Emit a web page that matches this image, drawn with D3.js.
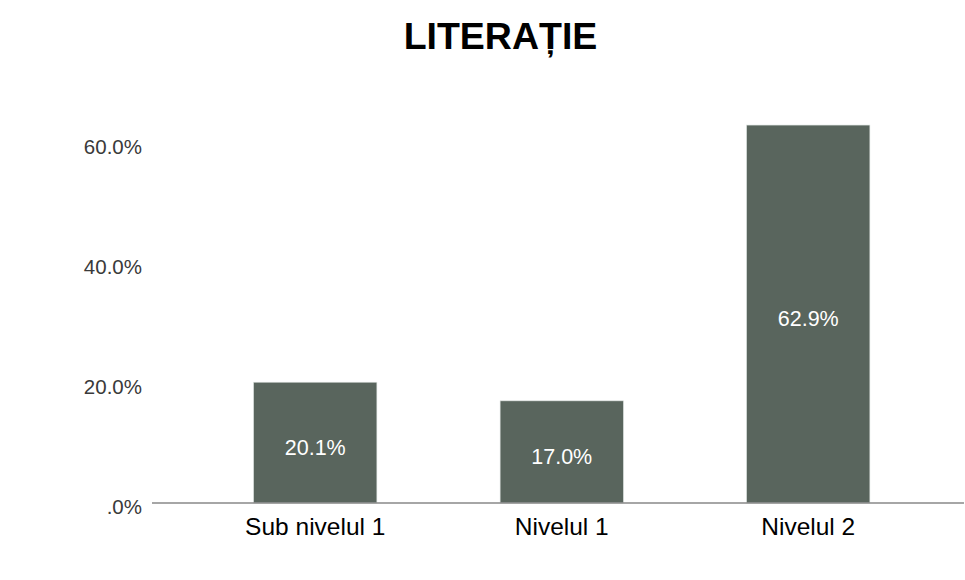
<!DOCTYPE html>
<html>
<head>
<meta charset="utf-8">
<script src="https://cdn.jsdelivr.net/npm/d3@7"></script>
<style>
html,body{margin:0;padding:0;background:#fff;}
svg{display:block;font-family:"Liberation Sans",Arial,sans-serif;}
</style>
</head>
<body>
<svg id="chart" width="965" height="580"></svg>
<script>
const title = "LITERAȚIE";
const categories = ["Sub nivelul 1", "Nivelul 1", "Nivelul 2"];
const values = [20.1, 17.0, 62.9];
const yTicks = [0, 20, 40, 60];
const yTickLabels = [".0%", "20.0%", "40.0%", "60.0%"];

const svg = d3.select("#chart");

const x = d3.scaleBand()
  .domain(categories)
  .range([192, 931.5])
  .paddingInner(0.5)
  .paddingOuter(0.25);

const y = d3.scaleLinear()
  .domain([0, 60])
  .range([503, 142.5]);

// title
svg.append("text")
  .attr("x", 500.5)
  .attr("y", 49)
  .attr("text-anchor", "middle")
  .attr("font-size", 37.5)
  .attr("font-weight", "bold")
  .attr("fill", "#000")
  .text(title);

// bars
svg.append("g").selectAll("rect")
  .data(values)
  .join("rect")
  .attr("x", (d, i) => x(categories[i]))
  .attr("width", x.bandwidth())
  .attr("y", d => y(d))
  .attr("height", d => y(0) - y(d))
  .attr("fill", "#59655d")
  .attr("stroke", "#d8dedb")
  .attr("stroke-width", 0.6);

// bar labels
svg.append("g").selectAll("text")
  .data(values)
  .join("text")
  .attr("x", (d, i) => x(categories[i]) + x.bandwidth() / 2)
  .attr("y", d => (y(d) + y(0)) / 2 + 5)
  .attr("text-anchor", "middle")
  .attr("dominant-baseline", "central")
  .attr("font-size", 21.5)
  .attr("fill", "#fff")
  .text(d => d.toFixed(1) + "%");

// y axis labels (no line)
const yAxis = d3.axisLeft(y)
  .tickValues(yTicks)
  .tickSize(0)
  .tickPadding(0)
  .tickFormat((d, i) => yTickLabels[i]);
const ya = svg.append("g").attr("transform", "translate(142,0)").call(yAxis);
ya.select(".domain").remove();
ya.selectAll("text")
  .attr("font-size", 20.5)
  .attr("font-family", "Liberation Sans, Arial, sans-serif")
  .attr("fill", "#3a3a3a")
  .attr("dy", "0.32em")
  .attr("y", 4);

// x axis line
svg.append("line")
  .attr("x1", 152).attr("x2", 964)
  .attr("y1", y(0)).attr("y2", y(0))
  .attr("stroke", "#888")
  .attr("stroke-width", 1.5);

// x axis labels
const xAxis = d3.axisBottom(x).tickSize(0).tickPadding(0);
const xa = svg.append("g").attr("transform", `translate(0,${y(0)})`).call(xAxis);
xa.select(".domain").remove();
xa.selectAll("text")
  .attr("font-size", 24.5)
  .attr("font-family", "Liberation Sans, Arial, sans-serif")
  .attr("fill", "#000")
  .attr("dy", 0)
  .attr("y", 32);
</script>
</body>
</html>
